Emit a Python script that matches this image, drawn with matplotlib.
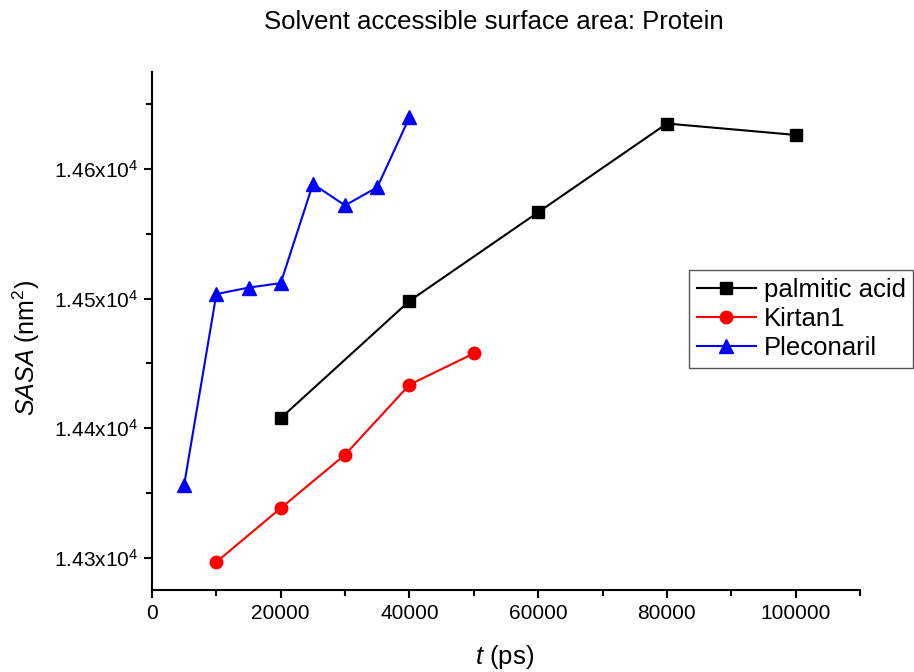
import matplotlib
matplotlib.use("Agg")
import matplotlib.pyplot as plt
from matplotlib.ticker import MultipleLocator, FuncFormatter

plt.rcParams['font.family'] = ['Liberation Sans', 'DejaVu Sans']
plt.rcParams['mathtext.fontset'] = 'custom'
plt.rcParams['mathtext.rm'] = 'Liberation Sans'
plt.rcParams['mathtext.it'] = 'Liberation Sans:italic'

# Data
palmitic_t = [20000, 40000, 60000, 80000, 100000]
palmitic_sasa = [14407.7, 14498.2, 14566.7, 14635.2, 14626.4]

kirtan_t = [10000, 20000, 30000, 40000, 50000]
kirtan_sasa = [14296.6, 14338.2, 14379.5, 14433.5, 14457.7]

pleco_t = [5000, 10000, 15000, 20000, 25000, 30000, 35000, 40000]
pleco_sasa = [14356.4, 14503.5, 14508.5, 14512.0, 14588.5, 14572.0, 14586.0, 14640.0]

fig = plt.figure(figsize=(9.14, 6.72), dpi=100)
ax = fig.add_axes([152/914, 1-590/672, (860-152)/914, (590-72)/672])

ax.plot(palmitic_t, palmitic_sasa, color='black', marker='s', markersize=8.5,
        linewidth=1.5, label='palmitic acid')
ax.plot(kirtan_t, kirtan_sasa, color='red', marker='o', markersize=9,
        linewidth=1.5, label='Kirtan1')
ax.plot(pleco_t, pleco_sasa, color='blue', marker='^', markersize=10,
        linewidth=1.5, label='Pleconaril')

ax.set_xlim(0, 110000)
ax.set_ylim(14275, 14675)
ax.xaxis.set_major_locator(MultipleLocator(20000))
ax.xaxis.set_minor_locator(MultipleLocator(10000))
ax.yaxis.set_major_locator(MultipleLocator(100))
ax.yaxis.set_minor_locator(MultipleLocator(50))

def yfmt(v, pos):
    return r'%.2fx10$^{4}$' % (v / 10000.0)
ax.yaxis.set_major_formatter(FuncFormatter(yfmt))
ax.xaxis.set_major_formatter(FuncFormatter(lambda v, p: '%d' % v))

for s in ['top', 'right']:
    ax.spines[s].set_visible(False)
for s in ['left', 'bottom']:
    ax.spines[s].set_linewidth(1.5)

ax.tick_params(which='major', direction='out', length=6, width=1.5, labelsize=15, pad=4)
ax.tick_params(which='minor', direction='out', length=4, width=1.5)

fig.text(505/914, 1-657/672, r'$t$ (ps)', fontsize=18.5, ha='center', va='center')
fig.text(26/914, 1-348/672, r'$SASA$ (nm$^{2}$)', fontsize=18, ha='center',
         va='center', rotation=90)

fig.text(494/914, 1-22/672, 'Solvent accessible surface area: Protein',
         fontsize=18.5, ha='center', va='center')

leg = ax.legend(loc='upper left', bbox_to_anchor=(689/914, 1-270/672),
                bbox_transform=fig.transFigure, fontsize=18.5, frameon=True,
                fancybox=False, edgecolor='#555555', framealpha=1,
                borderpad=0.3, labelspacing=0.2, handlelength=2.3,
                handletextpad=0.3, borderaxespad=0)
leg.get_frame().set_linewidth(1.0)

fig.savefig('out.png', dpi=100)
